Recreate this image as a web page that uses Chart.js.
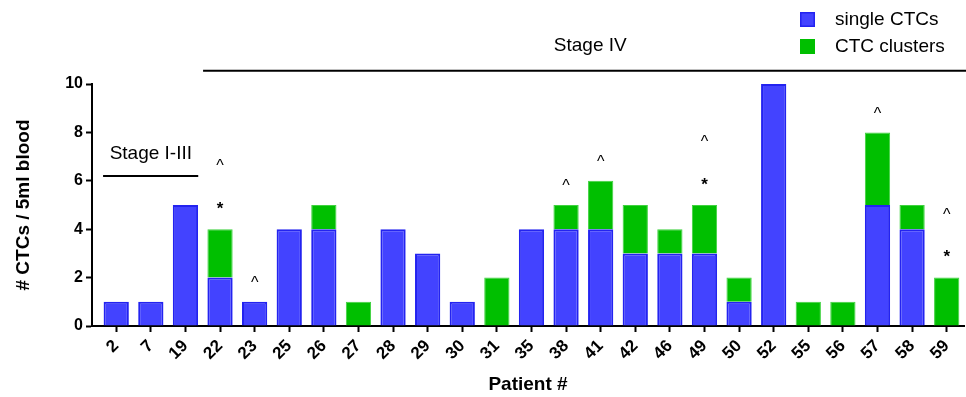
<!DOCTYPE html>
<html>
<head>
<meta charset="utf-8">
<script src="https://cdn.jsdelivr.net/npm/chart.js@4"></script>
<style>
  html, body { margin: 0; padding: 0; background: #fff; }
  #wrap { width: 966px; height: 397px; position: relative; }
</style>
</head>
<body>
<div id="wrap"><canvas id="ctcChart"></canvas></div>
<script>
// data
const patients = ['2', '7', '19', '22', '23', '25', '26', '27', '28', '29', '30', '31', '35',
  '38', '41', '42', '46', '49', '50', '52', '55', '56', '57', '58', '59'];
const singleCTCs = [1, 1, 5, 2, 1, 4, 4, 0, 4, 3, 1, 0, 4, 4, 4, 3, 3, 3, 1, 10, 0, 0, 5, 4, 0];
const ctcClusters = [0, 0, 0, 2, 0, 0, 1, 1, 0, 0, 0, 2, 0, 1, 2, 2, 1, 2, 1, 0, 1, 1, 3, 1, 2];
const caretPatients = ['22', '23', '38', '41', '49', '57', '59'];
const starPatients = ['22', '49', '59'];
const yTicks = [0, 2, 4, 6, 8, 10];

const FONT = 'Liberation Sans, Arial, Helvetica, sans-serif';
const BLUE = '#4343ff';
const BLUE_EDGE = '#2323f0';
const GREEN = '#00bf00';
const GREEN_EDGE = '#3fd23f';

Chart.defaults.color = '#000';
Chart.defaults.font.family = FONT;

// stage bars, marker symbols and the legend
const extras = {
  id: 'extras',
  afterDatasetsDraw(chart) {
    const { ctx, scales: { x, y } } = chart;
    ctx.save();
    ctx.fillStyle = '#000';
    ctx.strokeStyle = '#000';
    ctx.textAlign = 'center';
    ctx.textBaseline = 'middle';

    // ^ and * above the bars
    patients.forEach((p, i) => {
      const total = singleCTCs[i] + ctcClusters[i];
      const hasStar = starPatients.includes(p);
      const px = x.getPixelForValue(i);
      if (hasStar) {
        ctx.font = 'bold 17px ' + FONT;
        ctx.fillText('*', px, y.getPixelForValue(total + 0.95) + 3);
      }
      if (caretPatients.includes(p)) {
        ctx.font = '16px ' + FONT;
        ctx.fillText('^', px, y.getPixelForValue(total + (hasStar ? 2.7 : 0.88)) + 3);
      }
    });

    // stage lines
    ctx.lineWidth = 2;
    ctx.beginPath();
    ctx.moveTo(x.getPixelForValue(-0.38), y.getPixelForValue(6.2));
    ctx.lineTo(x.getPixelForValue(2.37), y.getPixelForValue(6.2));
    ctx.stroke();
    ctx.beginPath();
    ctx.moveTo(x.getPixelForValue(2.51), y.getPixelForValue(10.55));
    ctx.lineTo(chart.width, y.getPixelForValue(10.55));
    ctx.stroke();

    ctx.font = '19px ' + FONT;
    ctx.fillText('Stage I-III', x.getPixelForValue(1.0), y.getPixelForValue(7.1));
    ctx.fillText('Stage IV', x.getPixelForValue(13.7), y.getPixelForValue(11.6));

    // legend
    const items = [
      { label: 'single CTCs', fill: BLUE, edge: BLUE_EDGE },
      { label: 'CTC clusters', fill: GREEN, edge: GREEN }
    ];
    ctx.textAlign = 'left';
    items.forEach((it, k) => {
      const top = 12 + k * 27;
      ctx.fillStyle = it.fill;
      ctx.fillRect(800, top, 15, 15);
      ctx.strokeStyle = it.edge;
      ctx.lineWidth = 1.5;
      ctx.strokeRect(800.75, top + 0.75, 13.5, 13.5);
      ctx.fillStyle = '#000';
      ctx.font = '19px ' + FONT;
      ctx.fillText(it.label, 835, top + 8);
    });
    ctx.restore();
  }
};

const ctx = document.getElementById('ctcChart').getContext('2d');
new Chart(ctx, {
  type: 'bar',
  data: {
    datasets: [
      {
        label: 'single CTCs',
        data: singleCTCs.map((v, i) => ({ x: i, y: v })),
        backgroundColor: BLUE,
        borderColor: BLUE_EDGE,
        borderWidth: 2,
        barPercentage: 0.73,
        categoryPercentage: 1
      },
      {
        label: 'CTC clusters',
        data: ctcClusters.map((v, i) => ({ x: i, y: v })),
        backgroundColor: GREEN,
        borderColor: GREEN_EDGE,
        borderWidth: 1,
        barPercentage: 0.73,
        categoryPercentage: 1
      }
    ]
  },
  options: {
    responsive: true,
    maintainAspectRatio: false,
    animation: false,
    layout: { padding: { left: 0, right: 2, top: 84, bottom: 0 } },
    plugins: {
      legend: { display: false },
      tooltip: { enabled: false }
    },
    scales: {
      x: {
        type: 'linear',
        stacked: true,
        offset: false,
        min: -0.7,
        max: 24.5,
        afterFit: (s) => { s.height = 71; },
        afterBuildTicks: (s) => { s.ticks = patients.map((_, i) => ({ value: i })); },
        border: { color: '#000', width: 2 },
        grid: { offset: false, drawOnChartArea: false, tickLength: 6, tickWidth: 2, tickColor: '#000' },
        ticks: {
          autoSkip: false,
          minRotation: 45,
          maxRotation: 45,
          padding: 4,
          font: { size: 17, weight: 'bold' },
          callback: (v) => patients[v] ?? ''
        },
        title: {
          display: true,
          text: 'Patient #',
          font: { size: 19, weight: 'bold' },
          padding: { top: 0, bottom: 1 }
        }
      },
      y: {
        stacked: true,
        min: 0,
        max: 10,
        afterFit: (s) => { s.width = 92; },
        afterBuildTicks: (s) => { s.ticks = yTicks.map(v => ({ value: v })); },
        border: { color: '#000', width: 2 },
        grid: { drawOnChartArea: false, tickLength: 6, tickWidth: 2, tickColor: '#000' },
        ticks: {
          padding: 3,
          font: { size: 16, weight: 'bold' }
        },
        title: {
          display: true,
          text: '# CTCs / 5ml blood',
          font: { size: 19, weight: 'bold' },
          padding: { top: 12, bottom: 0 }
        }
      }
    }
  },
  plugins: [extras]
});
</script>
</body>
</html>
